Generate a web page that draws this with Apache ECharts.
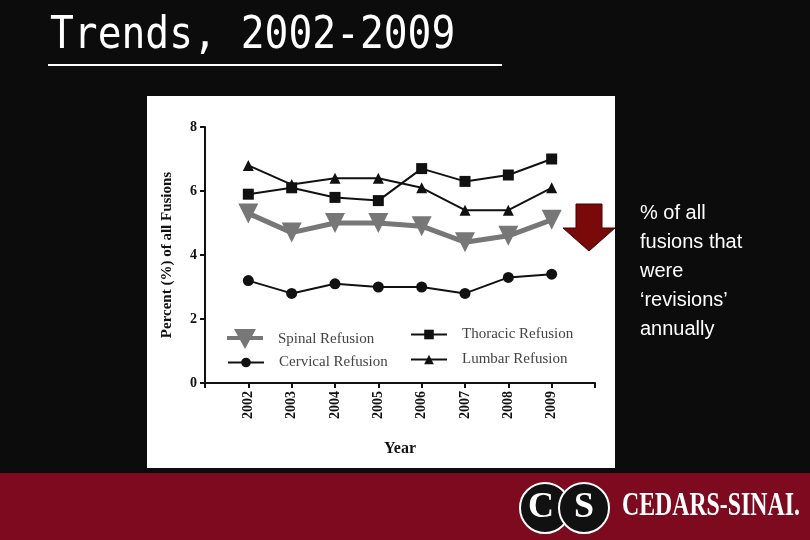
<!DOCTYPE html>
<html><head><meta charset="utf-8">
<script src="https://cdn.jsdelivr.net/npm/echarts@6/dist/echarts.min.js"></script>
<style>html,body{margin:0;padding:0;background:#0c0c0c}#c{width:810px;height:540px}</style>
</head><body><div id="c"></div>
<script>
const years = [2002, 2003, 2004, 2005, 2006, 2007, 2008, 2009]
const spinal = [5.3, 4.7, 5.0, 5.0, 4.9, 4.4, 4.6, 5.1]
const thoracic = [5.9, 6.1, 5.8, 5.7, 6.7, 6.3, 6.5, 7.0]
const cervical = [3.2, 2.8, 3.1, 3.0, 3.0, 2.8, 3.3, 3.4]
const lumbar = [6.8, 6.2, 6.4, 6.4, 6.1, 5.4, 5.4, 6.1]
const yTicks = [0, 2, 4, 6, 8]

const pairs = (arr) => years.map((y, i) => [y, arr[i]])
const serif = 'Liberation Serif'
const chart = echarts.init(document.getElementById('c'))

const line = (name, data, symbol, size, color, width) => ({
	name, type: 'line', data: pairs(data), symbol, symbolSize: size,
	lineStyle: { color, width }, itemStyle: { color }, z: color === '#111' ? 3 : 2,
})

const legendCommon = {
	orient: 'vertical', itemGap: 10, itemWidth: 36, itemHeight: 12,
	textStyle: { fontFamily: serif, fontSize: 15, color: '#444', padding: [0, 0, 0, 10] },
}
// line with a downward triangle, for the spinal legend entry
const downTri = 'path://M0,7L36,7L36,11L0,11Z M7,0L29,0L18,20Z'

chart.setOption({
	backgroundColor: '#0c0c0c',
	animation: false,
	grid: { left: 205, top: 127, right: 215, bottom: 157 },
	xAxis: {
		type: 'value', min: 2001, max: 2010, interval: 1,
		axisLine: { lineStyle: { color: '#111', width: 2 } },
		axisTick: { show: true, length: 5, lineStyle: { color: '#111', width: 2 } },
		splitLine: { show: false },
		axisLabel: {
			rotate: 90, color: '#111', fontFamily: serif, fontWeight: 'bold', fontSize: 14,
			formatter: (v) => (years.includes(v) ? String(v) : ''),
		},
		name: 'Year', nameLocation: 'middle', nameGap: 58,
		nameTextStyle: { fontFamily: serif, fontWeight: 'bold', fontSize: 16, color: '#111' },
	},
	yAxis: {
		type: 'value', min: yTicks[0], max: yTicks[yTicks.length - 1], interval: 2,
		axisLine: { show: true, lineStyle: { color: '#111', width: 2 } },
		axisTick: { show: true, length: 5, lineStyle: { color: '#111', width: 2 } },
		splitLine: { show: false },
		axisLabel: { color: '#111', fontFamily: serif, fontWeight: 'bold', fontSize: 14, margin: 8 },
		name: 'Percent (%) of all Fusions', nameLocation: 'middle', nameGap: 30,
		nameTextStyle: { fontFamily: serif, fontWeight: 'bold', fontSize: 15, color: '#111' },
	},
	legend: [
		Object.assign({}, legendCommon, { left: 222, top: 324, itemHeight: 20, data: [{ name: 'Spinal Refusion', icon: downTri, itemStyle: { color: '#777' } }] }),
		Object.assign({}, legendCommon, { left: 222, top: 350, data: ['Cervical Refusion'] }),
		Object.assign({}, legendCommon, { left: 405, top: 322, data: ['Thoracic Refusion', 'Lumbar Refusion'] }),
	],
	series: [
		Object.assign(line('Spinal Refusion', spinal, 'triangle', 20, '#777', 5), { symbolRotate: 180 }),
		line('Thoracic Refusion', thoracic, 'rect', 11, '#111', 2),
		line('Cervical Refusion', cervical, 'circle', 11, '#111', 2),
		line('Lumbar Refusion', lumbar, 'triangle', 11, '#111', 2),
	],
	graphic: [
		{ type: 'rect', shape: { x: 147, y: 96, width: 468, height: 372 }, style: { fill: '#fff' }, z: -10, silent: true },
		{ type: 'rect', shape: { x: 0, y: 473, width: 810, height: 67 }, style: { fill: '#7d0a1e' }, z: -10 },
		{ type: 'text', x: 50, y: 14, style: { text: 'Trends, 2002-2009', fill: '#fff', font: '45px "DejaVu Sans Mono"' }, scaleX: 0.88 },
		{ type: 'rect', shape: { x: 48, y: 64, width: 454, height: 2 }, style: { fill: '#fff' } },
		{ type: 'polygon', shape: { points: [[576, 204], [602, 204], [602, 228], [615, 228], [589, 251], [563, 228], [576, 228]] }, style: { fill: '#7a0a0a', stroke: '#400', lineWidth: 1 } },
		{ type: 'text', left: 640, top: 199, style: { text: '% of all\nfusions that\nwere\n\u2018revisions\u2019\nannually', fill: '#fff', font: '20px "Liberation Sans"', lineHeight: 29 } },
		{ type: 'circle', shape: { cx: 545, cy: 508, r: 25 }, style: { fill: '#111', stroke: '#fff', lineWidth: 2 } },
		{ type: 'circle', shape: { cx: 584, cy: 508, r: 25 }, style: { fill: '#111', stroke: '#fff', lineWidth: 2 } },
		{ type: 'text', x: 528, y: 490, style: { text: 'C', fill: '#fff', font: 'bold 36px "Liberation Serif"' } },
		{ type: 'text', x: 574, y: 490, style: { text: 'S', fill: '#fff', font: 'bold 36px "Liberation Serif"' } },
		{ type: 'text', x: 622, y: 489, scaleX: 0.7, style: { text: 'CEDARS-SINAI.', fill: '#fff', font: 'bold 34px "Liberation Serif"' } },
	],
})
</script></body></html>
